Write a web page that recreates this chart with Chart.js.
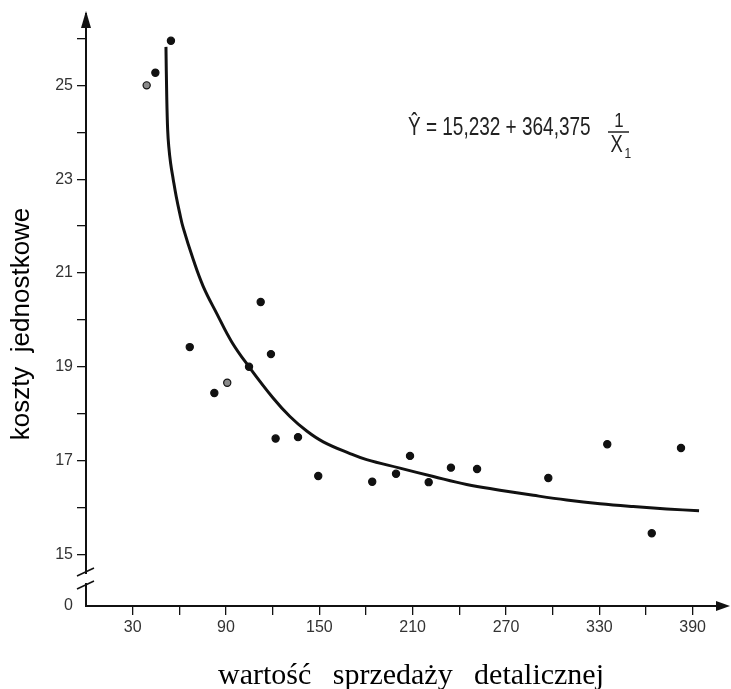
<!DOCTYPE html>
<html>
<head>
<meta charset="utf-8">
<script src="https://cdn.jsdelivr.net/npm/chart.js@4/dist/chart.umd.min.js"></script>
<style>
  html, body { margin: 0; padding: 0; background: #fff; }
  #wrap { width: 731px; height: 689px; }
</style>
</head>
<body>
<div id="wrap"><canvas id="chartCost" width="731" height="689"></canvas></div>
<script>
'use strict';

var pointX = [39, 44.6, 54.6, 66.7, 82.5, 90.8, 104.8, 112.3, 118.9, 121.9, 136.3, 149.3, 184.0, 199.3, 208.3, 220.3, 234.6, 251.4, 297.2, 335.1, 363.7, 382.5];
var pointY = [25.0, 25.27, 25.95, 19.42, 18.44, 18.66, 19.0, 20.38, 19.27, 17.47, 17.50, 16.67, 16.55, 16.72, 17.10, 16.54, 16.85, 16.82, 16.63, 17.35, 15.45, 17.27];

// fitted curve as drawn in the scan
var curveX = [51.4, 51.9, 52.5, 53.2, 54.4, 56.1, 58.0, 60.2, 62.5, 69.0, 75.4, 84.0, 93.7, 104.8, 120.4, 131.1, 141.9, 152.5, 169.7, 180.4, 201.8, 223.3, 244.7, 266.1, 287.6, 309, 330.4, 351.8, 373.3, 394.1];
var curveY = [25.82, 24.77, 24.05, 23.70, 23.34, 22.99, 22.63, 22.28, 21.96, 21.28, 20.71, 20.14, 19.53, 19.0, 18.33, 17.94, 17.63, 17.40, 17.15, 17.02, 16.84, 16.66, 16.49, 16.37, 16.26, 16.16, 16.08, 16.02, 15.97, 15.93];

var xTicks = [30, 60, 90, 120, 150, 180, 210, 240, 270, 300, 330, 360, 390];
var xLabels = [30, 90, 150, 210, 270, 330, 390];
var yTicks = [15, 16, 17, 18, 19, 20, 21, 22, 23, 24, 25, 26];
var yLabels = [15, 17, 19, 21, 23, 25];

var yMin = 13.9;
var yMax = 26.5;
var xMin = 0;
var xMax = 405;

var ink = '#111';
var hollow = { 0: true, 5: true };

// words spread evenly between two x positions
function spreadWords(ctx, words, x0, x1, y) {
  var widths = words.map(function (w) { return ctx.measureText(w).width; });
  var total = widths.reduce(function (s, w) { return s + w; }, 0);
  var gap = (x1 - x0 - total) / (words.length - 1);
  var x = x0;
  ctx.textAlign = 'left';
  words.forEach(function (w, i) {
    ctx.fillText(w, x, y);
    x += widths[i] + gap;
  });
}

var axisDecor = {
  id: 'axisDecor',
  afterDraw: function (chart) {
    var ctx = chart.ctx;
    var a = chart.chartArea;
    ctx.save();
    ctx.fillStyle = ink;
    ctx.strokeStyle = ink;

    // arrow on y axis
    ctx.lineWidth = 2;
    ctx.beginPath();
    ctx.moveTo(a.left, a.top);
    ctx.lineTo(a.left, a.top - 2);
    ctx.stroke();
    ctx.beginPath();
    ctx.moveTo(a.left, a.top - 4);
    ctx.lineTo(a.left - 5, a.top + 13);
    ctx.lineTo(a.left + 5, a.top + 13);
    ctx.closePath();
    ctx.fill();

    // arrow on x axis
    ctx.beginPath();
    ctx.moveTo(a.right, a.bottom);
    ctx.lineTo(a.right + 4, a.bottom);
    ctx.stroke();
    ctx.beginPath();
    ctx.moveTo(a.right + 14, a.bottom);
    ctx.lineTo(a.right, a.bottom - 5);
    ctx.lineTo(a.right, a.bottom + 5);
    ctx.closePath();
    ctx.fill();

    // axis break
    var b1 = a.bottom - 34, b2 = a.bottom - 21;
    ctx.fillStyle = '#fff';
    ctx.fillRect(a.left - 3, b1 + 2, 6, b2 - b1 - 4);
    ctx.lineWidth = 1.5;
    ctx.beginPath();
    ctx.moveTo(a.left - 9, b1 + 4); ctx.lineTo(a.left + 8, b1 - 4);
    ctx.moveTo(a.left - 9, b2 + 4); ctx.lineTo(a.left + 8, b2 - 4);
    ctx.stroke();

    // regression equation
    ctx.fillStyle = '#222';
    ctx.strokeStyle = '#222';
    ctx.textBaseline = 'alphabetic';
    ctx.save();
    ctx.translate(408, 135);
    ctx.scale(0.73, 1);
    ctx.font = '26px "Liberation Sans", Arial, sans-serif';
    ctx.textAlign = 'left';
    ctx.fillText('\u0176 = 15,232 + 364,375', 0, 0);
    ctx.restore();

    ctx.save();
    ctx.translate(619, 0);
    ctx.scale(0.8, 1);
    ctx.font = '21px "Liberation Sans", Arial, sans-serif';
    ctx.textAlign = 'center';
    ctx.fillText('1', 0, 127);
    ctx.font = '23px "Liberation Sans", Arial, sans-serif';
    ctx.fillText('X', -3, 152);
    ctx.font = '15px "Liberation Sans", Arial, sans-serif';
    ctx.fillText('1', 11, 158);
    ctx.restore();
    ctx.lineWidth = 1.5;
    ctx.beginPath();
    ctx.moveTo(608, 132); ctx.lineTo(629, 132);
    ctx.stroke();

    // axis titles
    ctx.fillStyle = '#000';
    ctx.font = '26px "Liberation Sans", Arial, sans-serif';
    ctx.textAlign = 'center';
    ctx.textBaseline = 'middle';
    ctx.save();
    ctx.translate(22, 324);
    ctx.rotate(-Math.PI / 2);
    ctx.fillText('koszty  jednostkowe', 0, 0);
    ctx.restore();

    ctx.font = '30px "Liberation Serif", "Times New Roman", serif';
    ctx.textBaseline = 'alphabetic';
    spreadWords(ctx, ['warto\u015b\u0107', 'sprzeda\u017cy', 'detalicznej'], 218, 604, 684);
    ctx.restore();
  }
};

var init = function () {
  var canvas = document.getElementById('chartCost');
  if (!(canvas instanceof HTMLCanvasElement) || typeof window.Chart !== 'function') {
    return;
  }

  var points = pointX.map(function (x, i) { return { x: x, y: pointY[i] }; });
  var curve = curveX.map(function (x, i) { return { x: x, y: curveY[i] }; });

  new Chart(canvas.getContext('2d'), {
    type: 'scatter',
    data: {
      datasets: [{
        label: 'krzywa',
        type: 'line',
        data: curve,
        showLine: true,
        borderColor: ink,
        borderWidth: 3,
        pointRadius: 0,
        tension: 0.4,
        fill: false,
        clip: false
      }, {
        label: 'obserwacje',
        data: points,
        pointRadius: 3.6,
        pointBorderWidth: 1.2,
        pointBorderColor: ink,
        pointBackgroundColor: function (c) { return hollow[c.dataIndex] ? '#8a8a8a' : ink; }
      }]
    },
    options: {
      animation: false,
      responsive: false,
      devicePixelRatio: 1,
      layout: { padding: { top: 15, right: 15, left: 0, bottom: 0 } },
      plugins: {
        legend: { display: false },
        tooltip: { enabled: false }
      },
      scales: {
        x: {
          type: 'linear',
          min: xMin,
          max: xMax,
          afterBuildTicks: function (scale) {
            scale.ticks = xTicks.map(function (v) { return { value: v }; });
          },
          afterFit: function (scale) { scale.height = 83; },
          border: { display: true, color: ink, width: 2 },
          grid: { drawOnChartArea: false, drawTicks: true, tickLength: 9, color: ink, lineWidth: 1.3 },
          ticks: {
            padding: 3,
            color: '#333',
            maxRotation: 0,
            autoSkip: false,
            font: { family: '"Liberation Sans", Arial, sans-serif', size: 16 },
            callback: function (v) { return xLabels.indexOf(v) >= 0 ? String(v) : ''; }
          }
        },
        y: {
          type: 'linear',
          min: yMin,
          max: yMax,
          afterBuildTicks: function (scale) {
            scale.ticks = [{ value: yMin }].concat(yTicks.map(function (v) { return { value: v }; }));
          },
          afterFit: function (scale) { scale.width = 86; },
          border: { display: true, color: ink, width: 2 },
          grid: {
            drawOnChartArea: false,
            drawTicks: true,
            tickLength: 9,
            lineWidth: 1.3,
            color: function (c) { return c.tick && c.tick.value === yMin ? 'rgba(0,0,0,0)' : ink; }
          },
          ticks: {
            padding: 4,
            color: '#333',
            autoSkip: false,
            font: { family: '"Liberation Sans", Arial, sans-serif', size: 16 },
            callback: function (v) {
              if (v === yMin) return '0';
              return yLabels.indexOf(v) >= 0 ? String(v) : '';
            }
          }
        }
      }
    },
    plugins: [axisDecor]
  });
};

if (document.readyState === 'loading') {
  document.addEventListener('DOMContentLoaded', init);
} else {
  init();
}
</script>
</body>
</html>
